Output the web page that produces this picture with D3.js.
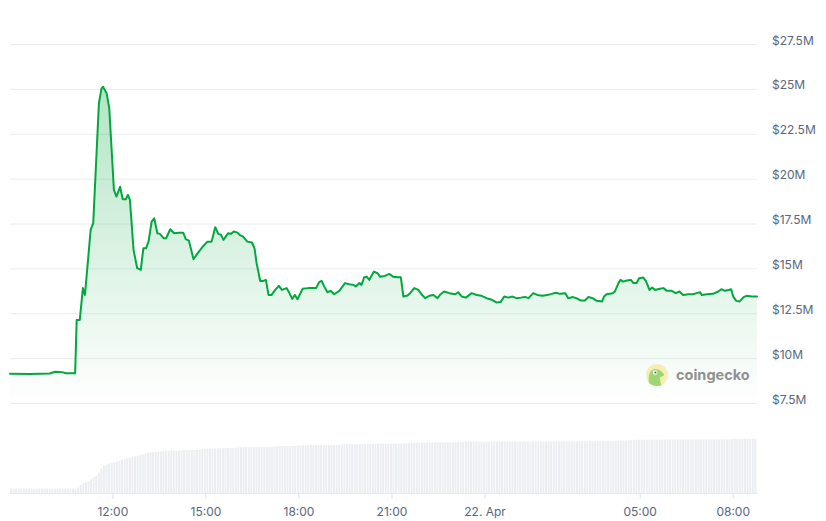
<!DOCTYPE html>
<html>
<head>
<meta charset="utf-8">
<script src="https://cdn.jsdelivr.net/npm/d3@7/dist/d3.min.js"></script>
<style>
  html, body { margin: 0; padding: 0; background: #ffffff; }
  svg { display: block; font-family: Inter, "Noto Sans", "DejaVu Sans", sans-serif; }
</style>
</head>
<body>
<svg id="chart" width="826" height="521"></svg>
<script>
// ---------------- DATA ----------------
// start of the series: 21 Apr 08:42 (local), series spans 1445 minutes
const startTime = new Date(2024, 3, 21, 8, 42);
const spanMinutes = 1445;

// line series: minutes after start, value in $M
const lineMinutes = [0,39,77,87,101,108,126,129,135,141,145,156,161,172,177,180,187,192,201,206,213,218,224,228,232,239,246,253,258,263,268,274,279,285,290,297,302,310,317,326,335,340,346,355,364,374,382,390,397,403,408,413,422,427,433,440,445,451,459,468,473,477,484,490,495,500,506,513,520,526,535,540,546,551,556,566,577,592,598,603,607,614,620,627,637,648,656,664,669,676,680,685,690,695,704,711,716,725,734,741,751,756,761,769,774,782,790,796,803,811,819,827,833,840,850,861,867,874,882,893,903,912,922,932,941,949,956,964,972,980,988,996,1003,1012,1020,1030,1039,1048,1056,1064,1074,1080,1089,1096,1104,1112,1119,1127,1135,1145,1149,1154,1166,1170,1177,1181,1186,1193,1201,1206,1212,1217,1225,1230,1237,1242,1248,1257,1264,1270,1280,1288,1295,1302,1312,1321,1328,1335,1338,1348,1360,1370,1376,1383,1390,1395,1399,1405,1411,1419,1425,1435,1445];
const lineValues = [9.13,9.11,9.14,9.24,9.22,9.16,9.16,12.13,12.13,13.90,13.52,17.14,17.52,24.20,25.03,25.12,24.75,23.92,19.37,19.00,19.55,18.85,18.85,19.09,18.81,16.03,15.01,14.92,16.12,16.12,16.49,17.61,17.79,16.96,16.92,16.68,16.68,17.18,16.96,16.99,16.99,16.63,16.55,15.51,15.88,16.25,16.49,16.49,17.29,16.92,16.87,16.59,16.96,16.92,17.05,16.99,16.85,16.77,16.49,16.44,16.12,15.29,14.30,14.30,14.36,13.52,13.52,13.80,14.03,13.80,13.90,13.65,13.30,13.52,13.28,13.86,13.90,13.90,14.23,14.30,14.04,13.67,13.75,13.56,13.75,14.18,14.12,14.08,13.99,14.18,14.08,14.49,14.54,14.36,14.82,14.73,14.53,14.58,14.69,14.54,14.51,14.51,13.43,13.49,13.62,13.90,13.80,13.56,13.34,13.47,13.52,13.34,13.56,13.71,13.62,13.56,13.67,13.43,13.37,13.62,13.52,13.47,13.34,13.25,13.10,13.12,13.43,13.37,13.43,13.34,13.37,13.41,13.34,13.62,13.52,13.47,13.52,13.58,13.64,13.58,13.62,13.34,13.40,13.34,13.21,13.21,13.41,13.34,13.19,13.15,13.43,13.56,13.62,13.71,14.18,14.36,14.26,14.32,14.36,14.18,14.18,14.45,14.49,14.30,13.80,13.93,13.80,13.86,13.90,13.76,13.75,13.62,13.71,13.52,13.56,13.56,13.62,13.67,13.52,13.56,13.58,13.71,13.84,13.75,13.80,13.84,13.43,13.19,13.15,13.40,13.47,13.43,13.43];

// volume bars: one bar every 5 minutes from start
const volumeStepMinutes = 5;
const volumeValues = [
0.43,0.43,0.44,0.43,0.43,0.43,0.44,0.43,0.43,0.43,0.43,0.44,0.43,0.43,0.43,0.43,0.44,0.43,0.43,0.43,0.44,0.43,0.43,0.43,0.43,0.44,
0.57,0.80,0.98,1.07,1.18,1.37,1.57,1.72,2.05,2.45,2.70,2.82,2.95,3.05,3.07,
3.12,3.25,3.33,3.36,3.45,3.52,3.62,3.68,3.73,3.78,3.88,3.95,4.00,4.06,4.09,4.12,4.14,4.17,4.19,4.22,
4.23,4.23,4.21,4.24,4.23,4.25,4.30,4.33,4.31,4.30,4.30,4.32,4.33,4.35,4.40,4.43,4.43,4.42,4.45,4.47,4.50,4.48,4.50,
4.50,4.49,4.50,4.52,4.55,4.57,4.58,4.60,4.58,4.60,4.60,4.59,4.60,4.60,4.61,4.60,4.62,4.63,
4.64,4.66,4.70,4.70,4.69,4.70,4.68,4.70,4.71,4.73,4.74,4.77,4.76,
4.78,4.80,4.77,4.80,4.80,4.79,4.80,4.78,4.80,4.81,4.80,4.80,
4.85,4.87,4.90,4.89,4.90,4.90,4.88,4.87,4.86,4.90,4.89,4.90,
4.92,4.93,4.92,4.93,4.93,4.91,4.93,4.93,4.92,4.93,4.93,4.93,
4.95,4.97,4.98,5.00,5.01,5.02,5.03,5.03,
5.03,5.04,5.03,5.05,5.05,5.05,5.06,5.05,5.05,5.06,5.07,5.06,5.06,5.07,
5.08,5.10,5.12,5.12,5.13,5.13,5.12,5.13,5.13,5.13,5.12,5.13,5.13,5.13,5.13,5.12,5.13,5.13,5.13,5.13,5.12,5.13,5.13,
5.13,5.14,5.14,5.13,5.14,5.14,5.15,5.14,5.15,5.15,5.14,5.15,5.15,5.16,5.15,5.15,5.16,5.16,5.15,5.16,5.16,5.17,5.16,5.16,5.17,5.17,
5.17,5.17,5.18,5.18,5.18,5.19,5.19,5.20,5.20,
5.21,5.22,5.23,5.23,5.24,5.25,5.26,5.27,5.27,5.30,5.31,
5.33,5.33,5.33,5.34,5.33,5.34,5.34,5.34,5.33,5.34,5.34,5.34,5.34,5.35,5.34,5.34,5.35,5.35,5.34,5.35,5.35,5.35,5.35,5.35,
5.35,5.36,5.36,5.35,5.36,5.36,5.36,5.37,5.36,5.37,5.37,5.37,5.37,5.40,
5.40,5.40,5.41,5.42,5.43,5.40,5.43,5.43,5.43];

// y-axis ticks ($M) and their labels
const yTicks = [7.5, 10, 12.5, 15, 17.5, 20, 22.5, 25, 27.5];
const yTickLabels = ["$7.5M","$10M","$12.5M","$15M","$17.5M","$20M","$22.5M","$25M","$27.5M"];

// x-axis ticks and labels
const xTickTimes = [
  new Date(2024, 3, 21, 12, 0), new Date(2024, 3, 21, 15, 0), new Date(2024, 3, 21, 18, 0),
  new Date(2024, 3, 21, 21, 0), new Date(2024, 3, 22, 0, 0), new Date(2024, 3, 22, 5, 0),
  new Date(2024, 3, 22, 8, 0)];
const xTickLabels = ["12:00","15:00","18:00","21:00","22. Apr","05:00","08:00"];

// ---------------- CHART ----------------
const svg = d3.select("#chart");
const W = 826, H = 521;
const plotLeft = 10, plotRight = 757;
const plotTop = 44, plotBottom = 403;
const volTop = 437, volBottom = 493;

const addMin = (m) => new Date(startTime.getTime() + m * 60000);
const x = d3.scaleTime().domain([startTime, addMin(spanMinutes)]).range([plotLeft, plotRight]);
const y = d3.scaleLinear().domain([7.5, 27.5]).range([plotBottom, plotTop]);
const yVol = d3.scaleLinear().domain([0, 5.6]).range([volBottom, volTop]);

const lineData = lineMinutes.map((m, i) => ({ t: addMin(m), v: lineValues[i] }));
const volData = volumeValues.map((v, i) => ({ t: addMin(i * volumeStepMinutes), v }));

// gradient
const defs = svg.append("defs");
const grad = defs.append("linearGradient").attr("id", "areaGrad")
  .attr("gradientUnits", "userSpaceOnUse")
  .attr("x1", 0).attr("x2", 0)
  .attr("y1", y(d3.max(lineValues))).attr("y2", plotBottom);
grad.append("stop").attr("offset", "0%").attr("stop-color", "#00a83e").attr("stop-opacity", 0.3);
grad.append("stop").attr("offset", "100%").attr("stop-color", "#00a83e").attr("stop-opacity", 0.0);

// gridlines
const yAxis = d3.axisRight(y).tickValues(yTicks).tickSize(plotRight - plotLeft)
  .tickFormat((d, i) => yTickLabels[i]);
const gy = svg.append("g").attr("transform", `translate(${plotLeft},0)`).call(yAxis);
gy.select(".domain").remove();
gy.selectAll(".tick line").attr("stroke", "#e9ecef").attr("stroke-width", 1);
gy.selectAll(".tick text")
  .attr("x", 772 - plotLeft)
  .attr("dy", "0")
  .attr("fill", "#58667e")
  .style("font-size", "12px")
  .style("font-family", "Inter, 'Noto Sans', sans-serif");

// volume bars
svg.append("g").selectAll("rect").data(volData).join("rect")
  .attr("x", d => x(d.t))
  .attr("y", d => yVol(d.v))
  .attr("width", 1.9)
  .attr("height", d => volBottom - yVol(d.v))
  .attr("fill", "#eaedf1");

// x axis
const xAxis = d3.axisBottom(x).tickValues(xTickTimes).tickSize(6).tickPadding(8)
  .tickFormat((d, i) => xTickLabels[i]);
const gx = svg.append("g").attr("transform", `translate(0,${volBottom})`).call(xAxis);
gx.select(".domain").attr("stroke", "#e6e9ee").attr("d", `M${plotLeft},0.5H${plotRight}`);
gx.selectAll(".tick line").attr("stroke", "#dfe3e8");
gx.selectAll(".tick text")
  .attr("fill", "#58667e")
  .style("font-size", "12px")
  .style("font-family", "Inter, 'Noto Sans', sans-serif");

// area + line
const area = d3.area().x(d => x(d.t)).y0(plotBottom).y1(d => y(d.v)).curve(d3.curveLinear);
svg.append("path").datum(lineData).attr("d", area).attr("fill", "url(#areaGrad)");
const line = d3.line().x(d => x(d.t)).y(d => y(d.v)).curve(d3.curveLinear);
svg.append("path").datum(lineData).attr("d", line)
  .attr("fill", "none").attr("stroke", "#00a83e").attr("stroke-width", 2)
  .attr("stroke-linejoin", "round").attr("stroke-linecap", "round");

// watermark
const wm = svg.append("g").attr("opacity", 0.85);
const cx = 657, cy = 375, r = 11;
defs.append("clipPath").attr("id", "logoClip").append("circle").attr("cx", cx).attr("cy", cy).attr("r", r);
wm.append("circle").attr("cx", cx).attr("cy", cy).attr("r", r).attr("fill", "#f7eca8");
wm.append("path")
  .attr("clip-path", "url(#logoClip)")
  .attr("d", `M${cx-8},${cy+12} C${cx-9},${cy+2} ${cx-8},${cy-6} ${cx-2},${cy-6} C${cx+3},${cy-6} ${cx+5},${cy-3} ${cx+7},${cy-1} C${cx+8},${cy} ${cx+6},${cy+2} ${cx+3},${cy+2} C${cx+3},${cy+6} ${cx+4},${cy+9} ${cx+5},${cy+12} Z`)
  .attr("fill", "#8fd15a");
wm.append("circle").attr("cx", cx - 2).attr("cy", cy - 2.5).attr("r", 2.3).attr("fill", "#ffffff");
wm.append("circle").attr("cx", cx - 1.6).attr("cy", cy - 2.5).attr("r", 1.1).attr("fill", "#4a4a4a");
wm.append("text").attr("x", 676).attr("y", cy + 5)
  .text("coingecko")
  .attr("fill", "#7d7d7d")
  .style("font-size", "14.5px")
  .style("font-weight", "700")
  .style("font-family", "Inter, 'Noto Sans', sans-serif");
</script>
</body>
</html>
